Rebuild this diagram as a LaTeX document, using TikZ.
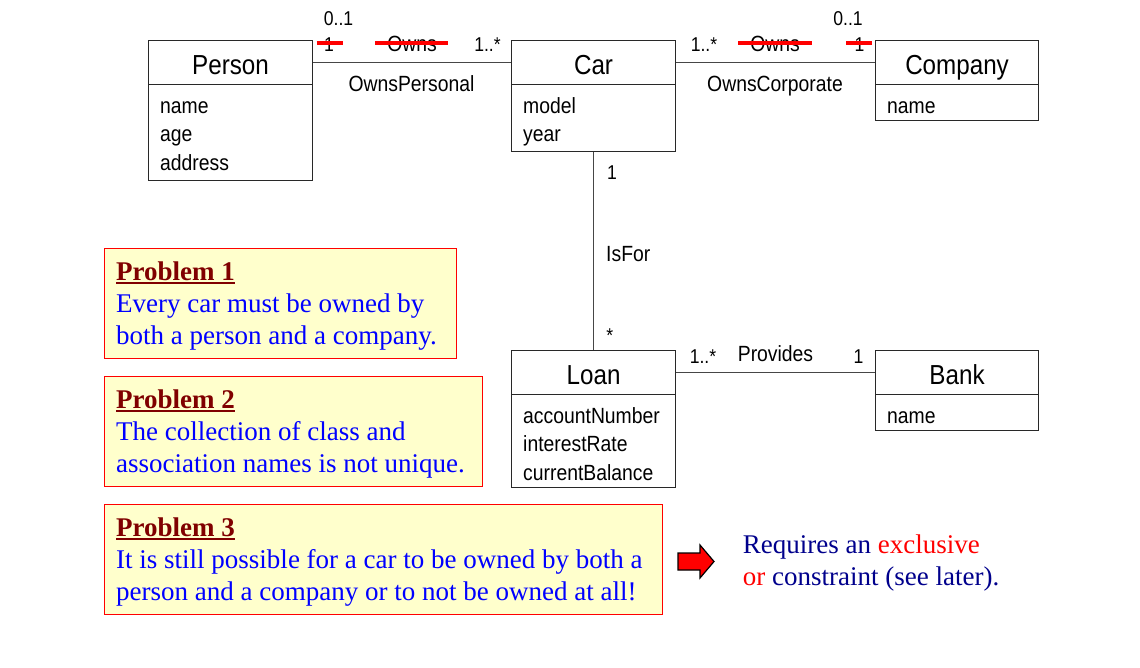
\documentclass[tikz,border=0pt]{standalone}
\usepackage{fontspec}
\setmainfont{Liberation Serif}
\newfontfamily\umlf[FakeStretch=0.88]{Liberation Sans}
\usetikzlibrary{calc}
\definecolor{boxline}{RGB}{40,40,40}
\definecolor{conline}{RGB}{70,70,70}
\definecolor{probfill}{RGB}{255,255,204}
\definecolor{probred}{RGB}{128,0,0}
\definecolor{probblue}{RGB}{0,0,255}
\definecolor{navyblue}{RGB}{0,0,140}
\definecolor{strikered}{RGB}{255,0,0}
\begin{document}
\begin{tikzpicture}[x=1pt,y=-1pt,
 classhead/.style={draw=boxline, line width=1.1pt, anchor=north west, inner sep=0pt, minimum height=44pt, font=\umlf\fontsize{27.5}{30}\selectfont, text height=24pt, text depth=0pt},
 classbody/.style={draw=boxline, line width=1.1pt, anchor=north west, inner sep=0pt},
 attr/.style={anchor=base west, inner sep=0pt, font=\umlf\fontsize{22}{26}\selectfont},
 assocname/.style={anchor=base, inner sep=0pt, font=\umlf\fontsize{22}{26}\selectfont},
 mult/.style={anchor=base, inner sep=0pt, font=\umlf\fontsize{20}{24}\selectfont},
 assoc/.style={draw=conline, line width=1pt},
 strike/.style={draw=strikered, line width=4pt},
 probbox/.style={draw=red, line width=1.2pt, fill=probfill, anchor=north west, inner sep=0pt, minimum height=110pt},
 probhead/.style={anchor=base west, inner sep=0pt, text=probred, font=\bfseries\fontsize{27}{32}\selectfont},
 probtext/.style={anchor=base west, inner sep=0pt, text=probblue, font=\fontsize{27}{32}\selectfont},
 reqtext/.style={anchor=base west, inner sep=0pt, text=navyblue, font=\fontsize{27}{32}\selectfont},
 uline/.style={draw=probred, line width=1.6pt},
]
\useasboundingbox (0,0) rectangle (1140,667);

% classes
\node[classhead, minimum width=164pt] (persont) at (148,40) {Person};
\node[classbody, minimum width=164pt, minimum height=96pt] (persona) at (148,84) {};
\node[attr] (p1) at (160,113.3) {name};
\node[attr] (p2) at (160,141.7) {age};
\node[attr] (p3) at (160,170) {address};

\node[classhead, minimum width=164pt] (cart) at (511,40) {Car};
\node[classbody, minimum width=164pt, minimum height=67pt] (cara) at (511,84) {};
\node[attr] (c1) at (523,113.3) {model};
\node[attr] (c2) at (523,141.7) {year};

\node[classhead, minimum width=163pt] (compt) at (875,40) {Company};
\node[classbody, minimum width=163pt, minimum height=36pt] (compa) at (875,84) {};
\node[attr] (co1) at (887,113.3) {name};

\node[classhead, minimum width=164pt] (loant) at (511,350) {Loan};
\node[classbody, minimum width=164pt, minimum height=93.3pt] (loana) at (511,394) {};
\node[attr] (l1) at (523,423.3) {accountNumber};
\node[attr] (l2) at (523,451.7) {interestRate};
\node[attr] (l3) at (523,480) {currentBalance};

\node[classhead, minimum width=163pt] (bankt) at (875,350) {Bank};
\node[classbody, minimum width=163pt, minimum height=36pt] (banka) at (875,394) {};
\node[attr] (b1) at (887,423.3) {name};

% associations
\draw[assoc] (persont.east) -- (cart.west);
\draw[assoc] (cart.east) -- (compt.west);
\draw[assoc] (cara.south) -- (loant.north);
\draw[assoc] (loant.east) -- (bankt.west);

% labels Person-Car
\node[mult] (m1) at (338.5,25) {0..1};
\node[mult] (m2) at (329,51.7) {1};
\node[assocname] (an1) at (412,51.7) {Owns};
\node[mult] (m3) at (487.5,51.7) {1..*};
\node[assocname] (an2) at (411.5,91.7) {OwnsPersonal};
\draw[strike] ($(m2.base)+(-12.3,-8.4)$) -- ($(m2.base)+(13.7,-8.4)$);
\draw[strike] ($(an1.base)+(-37,-8.4)$) -- ($(an1.base)+(36.3,-8.4)$);

% labels Car-Company
\node[mult] (m4) at (704,51.7) {1..*};
\node[assocname] (an3) at (775,51.7) {Owns};
\node[mult] (m5) at (848,25) {0..1};
\node[mult] (m6) at (859.5,51.7) {1};
\node[assocname] (an4) at (775,91.7) {OwnsCorporate};
\draw[strike] ($(an3.base)+(-37,-8.4)$) -- ($(an3.base)+(36.7,-8.4)$);
\draw[strike] ($(m6.base)+(-13.5,-8.4)$) -- ($(m6.base)+(12.2,-8.4)$);

% labels Car-Loan
\node[mult] (m7) at (612,179.3) {1};
\node[assocname, anchor=base west] (an5) at (606,261) {IsFor};
\node[mult] (m8) at (609.7,342) {*};

% labels Loan-Bank
\node[mult] (m9) at (703,363) {1..*};
\node[assocname] (an6) at (775.5,361) {Provides};
\node[mult] (m10) at (858.6,363) {1};

% problem boxes
\node[probbox, minimum width=352pt] (prob1) at (104,248) {};
\node[probhead] (h1) at (116,280) {Problem 1};
\draw[uline] ($(h1.base west)+(0,3)$) -- ($(h1.base east)+(0,3)$);
\node[probtext] (t11) at (116,312) {Every car must be owned by};
\node[probtext] (t12) at (116,344) {both a person and a company.};

\node[probbox, minimum width=377.7pt] (prob2) at (104,376) {};
\node[probhead] (h2) at (116,408) {Problem 2};
\draw[uline] ($(h2.base west)+(0,3)$) -- ($(h2.base east)+(0,3)$);
\node[probtext] (t21) at (116,440) {The collection of class and};
\node[probtext] (t22) at (116,472) {association names is not unique.};

\node[probbox, minimum width=558pt] (prob3) at (104,504) {};
\node[probhead] (h3) at (116,536) {Problem 3};
\draw[uline] ($(h3.base west)+(0,3)$) -- ($(h3.base east)+(0,3)$);
\node[probtext] (t31) at (116,568) {It is still possible for a car to be owned by both a};
\node[probtext] (t32) at (116,600) {person and a company or to not be owned at all!};

% block arrow
\filldraw[fill=red, draw=black, line width=1.2pt, line join=miter]
  (678,553) -- (700,553) -- (700,545) -- (714,561.5) -- (700,578) -- (700,570) -- (678,570) -- cycle;

\node[reqtext] (r1) at (742.7,553.3) {Requires an \textcolor{red}{exclusive}};
\node[reqtext] (r2) at (742.7,585) {\textcolor{red}{or} constraint (see later).};
\end{tikzpicture}
\end{document}
